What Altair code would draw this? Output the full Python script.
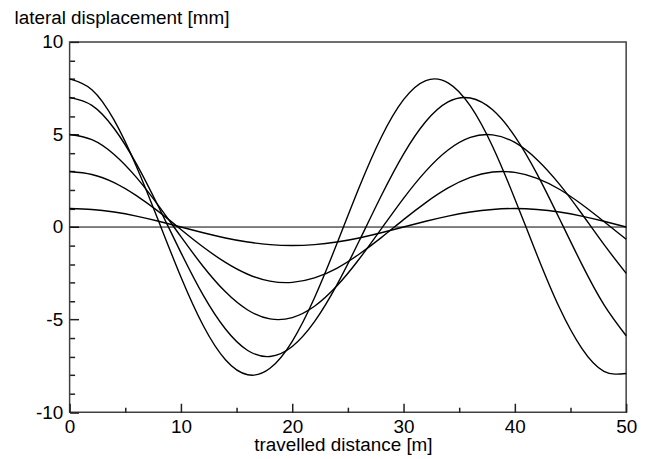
import altair as alt
import pandas as pd

# travelled distance [m]
distance = [0, 2, 4, 6, 8, 10, 12, 14, 16, 18, 20, 22, 24, 26, 28, 30,
            32, 34, 36, 38, 40, 42, 44, 46, 48, 50]

# lateral displacement [mm]
amp8 = [8.00, 7.42, 5.77, 3.27, 0.31, -2.70, -5.32, -7.17, -7.98, -7.63, -6.17, -3.82, -0.92,
        2.12, 4.85, 6.88, 7.91, 7.79, 6.54, 4.35, 1.52, -1.52, -4.35, -6.54, -7.79, -7.91]
amp7 = [7.00, 6.57, 5.32, 3.41, 1.08, -1.38, -3.68, -5.51, -6.67, -6.99, -6.45, -5.11, -3.14,
        -0.77, 1.69, 3.94, 5.70, 6.76, 6.97, 6.33, 4.90, 2.86, 0.46, -1.99, -4.19, -5.87]
amp5 = [5.00, 4.72, 3.92, 2.68, 1.14, -0.52, -2.13, -3.50, -4.48, -4.96, -4.89, -4.28, -3.19,
        -1.74, -0.10, 1.55, 3.02, 4.16, 4.84, 4.98, 4.57, 3.64, 2.32, 0.73, -0.94, -2.50]
amp3 = [3.00, 2.84, 2.40, 1.70, 0.83, -0.13, -1.08, -1.91, -2.55, -2.92, -2.99, -2.75, -2.23,
        -1.47, -0.57, 0.40, 1.32, 2.11, 2.68, 2.97, 2.95, 2.63, 2.04, 1.23, 0.30, -0.66]
amp1 = [1.00, 0.95, 0.81, 0.59, 0.31, 0.00, -0.31, -0.59, -0.81, -0.95, -1.00, -0.95, -0.81,
        -0.59, -0.31, 0.00, 0.31, 0.59, 0.81, 0.95, 1.00, 0.95, 0.81, 0.59, 0.31, 0.00]

series_names = ["8 mm", "7 mm", "5 mm", "3 mm", "1 mm"]

x_major = [0, 10, 20, 30, 40, 50]
x_minor = [5, 15, 25, 35, 45]
y_major = [-10, -5, 0, 5, 10]
y_minor = [-9, -8, -7, -6, -4, -3, -2, -1, 1, 2, 3, 4, 6, 7, 8, 9]
zero_line = [0]

W = 560
H = 372.6
FONT = "Liberation Sans"
FS = 19

rows = []
for name, vals in zip(series_names, [amp8, amp7, amp5, amp3, amp1]):
    for d, v in zip(distance, vals):
        rows.append({"distance": d, "disp": v, "series": name})
df = pd.DataFrame(rows)
zero_df = pd.DataFrame({"zero": zero_line})

xs = alt.Scale(domain=[0, 50], nice=False, zero=False)
ys = alt.Scale(domain=[-10, 10], nice=False, zero=False)

base = alt.Chart(df)

zero_rule = alt.Chart(zero_df).mark_rule(color="black", strokeWidth=1).encode(
    y=alt.Y("zero:Q", scale=ys, axis=None)
)

lines = base.mark_line(color="black", strokeWidth=1.4, interpolate="natural").encode(
    x=alt.X("distance:Q", scale=xs,
            axis=alt.Axis(orient="bottom", values=x_major, ticks=False, domain=False, grid=False,
                          labelPadding=5, labelFlush=False,
                          labelExpr="toString(datum.value)",
                          title="travelled distance [m]", titleX=275, titleY=38.5,
                          titleAlign="center", titleBaseline="alphabetic")),
    y=alt.Y("disp:Q", scale=ys,
            axis=alt.Axis(orient="left", values=y_major, ticks=False, domain=False, grid=False,
                          labelPadding=7,
                          labelExpr="toString(datum.value)",
                          title="lateral displacement [mm]", titleAngle=0, titleX=-56, titleY=-18.5,
                          titleAlign="left", titleBaseline="alphabetic")),
    detail="series:N",
)


def tick_layer(xv, yv, size):
    return base.mark_line(opacity=0).encode(
        x=alt.X("distance:Q", scale=xs,
                axis=alt.Axis(orient="top", offset=-H, values=xv, labels=False, domain=False,
                              grid=False, tickSize=size, title="")),
        y=alt.Y("disp:Q", scale=ys,
                axis=alt.Axis(orient="right", offset=-W, values=yv, labels=False, domain=False,
                              grid=False, tickSize=size, title="")),
        detail="series:N",
    )


chart = alt.layer(
    zero_rule, lines, tick_layer(x_major, y_major, 9), tick_layer(x_minor, y_minor, 5)
).resolve_axis(
    x="independent", y="independent"
).properties(
    width=W, height=H,
    autosize=alt.AutoSizeParams(type="none"),
    padding={"left": 62, "top": 32.7, "right": 25, "bottom": 44},
).configure_axis(
    labelFont=FONT, titleFont=FONT, labelFontSize=FS, titleFontSize=FS,
    labelColor="black", titleColor="black", titleFontWeight="normal",
    tickColor="#202020", tickWidth=1.5,
).configure_view(
    stroke="#404040", strokeWidth=1.5
)

chart.save("out.html", embed_options={"renderer": "svg", "actions": False})
